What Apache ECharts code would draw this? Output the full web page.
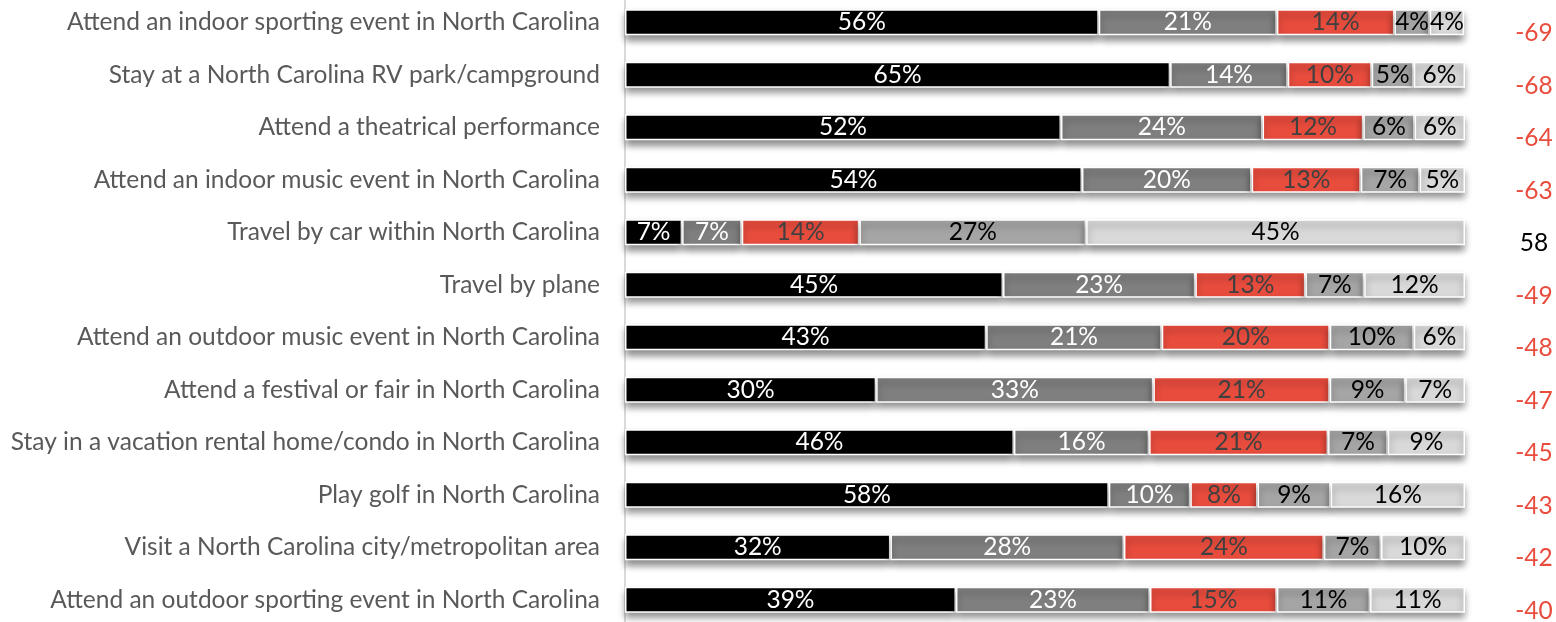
<!DOCTYPE html>
<html>
<head>
<meta charset="utf-8">
<script src="https://cdn.jsdelivr.net/npm/echarts@6/dist/echarts.min.js"></script>
<style>
  html, body { margin: 0; padding: 0; background: #fff; }
  #chart { width: 1556px; height: 622px; }
</style>
</head>
<body>
<div id="chart"></div>
<script>
// categories, top to bottom
var activities = [
  'Attend an indoor sporting event in North Carolina',
  'Stay at a North Carolina RV park/campground',
  'Attend a theatrical performance',
  'Attend an indoor music event in North Carolina',
  'Travel by car within North Carolina',
  'Travel by plane',
  'Attend an outdoor music event in North Carolina',
  'Attend a festival or fair in North Carolina',
  'Stay in a vacation rental home/condo in North Carolina',
  'Play golf in North Carolina',
  'Visit a North Carolina city/metropolitan area',
  'Attend an outdoor sporting event in North Carolina'
];

// segment shares (%)
var seg1 = [56.4, 64.9, 51.9, 54.4, 6.8, 45.0, 43.0, 29.9, 46.3, 57.6, 31.6, 39.4];
var seg2 = [21.2, 14.0, 24.0, 20.2, 7.1, 22.9, 20.9, 33.0, 16.1, 9.7, 27.8, 23.1];
var seg3 = [14.0, 10.0, 12.0, 13.0, 14.0, 13.1, 20.0, 21.0, 21.3, 8.0, 23.8, 15.1];
var seg4 = [4.2, 5.0, 6.1, 7.0, 27.0, 7.0, 10.0, 9.0, 7.1, 8.7, 6.8, 11.1];
var seg5 = [4.1, 6.1, 6.0, 5.4, 45.1, 12.0, 6.1, 7.1, 9.2, 16.0, 10.0, 11.3];

// net score shown at the right
var netScore = [-69, -68, -64, -63, 58, -49, -48, -47, -45, -43, -42, -40];

var chart = echarts.init(document.getElementById('chart'));

function makeSeries(name, data, color, labelColor) {
  return {
    name: name,
    type: 'bar',
    stack: 'all',
    barWidth: 26,
    data: data,
    itemStyle: {
      color: color,
      borderColor: '#fff',
      borderWidth: 1.5,
      shadowColor: 'rgba(0,0,0,0.45)',
      shadowBlur: 7,
      shadowOffsetY: 5
    },
    label: {
      show: true,
      position: 'inside',
      color: labelColor,
      fontFamily: 'Lato',
      fontSize: 24.5,
      formatter: function (p) {
        return Math.round(p.value) + '%';
      }
    },
    emphasis: { disabled: true }
  };
}

var option = {
  animation: false,
  grid: {
    left: 625,
    right: 91,
    top: -4,
    bottom: -4,
    outerBoundsMode: 'none'
  },
  xAxis: {
    type: 'value',
    min: 0,
    max: 100,
    show: false
  },
  yAxis: [
    {
      type: 'category',
      data: activities,
      inverse: true,
      axisLine: { show: true, lineStyle: { color: '#d9d9d9', width: 2 } },
      axisTick: { show: false },
      axisLabel: {
        margin: 25,
        color: '#595959',
        fontFamily: 'Lato',
        fontSize: 24.5
      }
    },
    {
      type: 'category',
      data: netScore,
      inverse: true,
      position: 'right',
      axisLine: { show: false },
      axisTick: { show: false },
      axisLabel: {
        margin: 69,
        align: 'center',
        padding: [22, 0, 0, 0],
        fontFamily: 'Lato',
        fontSize: 24.5,
        formatter: function (v) {
          return Number(v) < 0 ? '{neg|' + v + '}' : '{pos|' + v + '}';
        },
        rich: {
          neg: { color: '#e84c3d', fontFamily: 'Lato', fontSize: 24.5 },
          pos: { color: '#000', fontFamily: 'Lato', fontSize: 24.5 }
        }
      }
    }
  ],
  series: [
    makeSeries('s1', seg1, '#000000', '#ffffff'),
    makeSeries('s2', seg2, '#7f7f7f', '#ffffff'),
    makeSeries('s3', seg3, '#e84c3d', '#404040'),
    makeSeries('s4', seg4, '#a5a5a5', '#000000'),
    makeSeries('s5', seg5, '#d9d9d9', '#000000')
  ]
};

chart.setOption(option);
</script>
</body>
</html>
